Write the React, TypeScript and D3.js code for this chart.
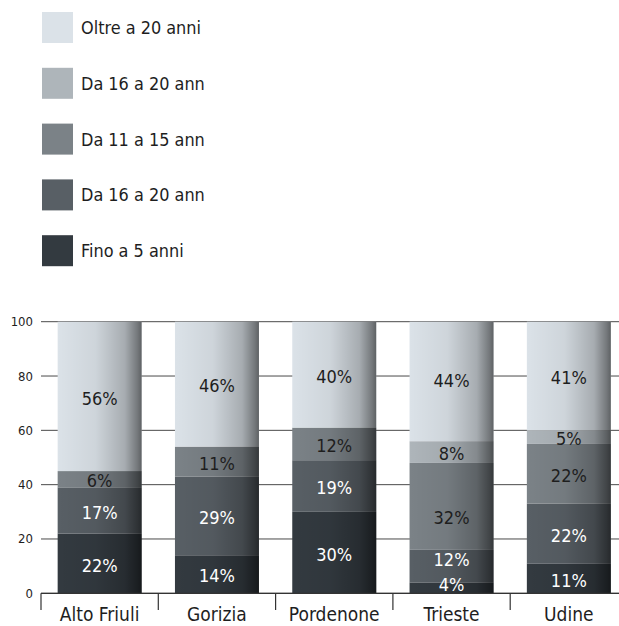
import React from "react";
import * as d3 from "d3";

const categories = ["Alto Friuli", "Gorizia", "Pordenone", "Trieste", "Udine"];
const seriesNames = ["Fino a 5 anni", "Da 16 a 20 ann", "Da 11 a 15 ann", "Da 16 a 20 ann", "Oltre a 20 anni"];
const fino5 = [22, 14, 30, 4, 11];
const da16dark = [17, 29, 19, 12, 22];
const da11 = [6, 11, 12, 32, 22];
const da16light = [0, 0, 0, 8, 5];
const oltre20 = [56, 46, 40, 44, 41];
const yTicks = [0, 20, 40, 60, 80, 100];

const seriesValues = [fino5, da16dark, da11, da16light, oltre20];
const colors = ["#333a40", "#585f65", "#7b8287", "#aeb5ba", "#dbe2e8"];
const labelColors = ["#ffffff", "#ffffff", "#1e1e1e", "#1e1e1e", "#1e1e1e"];
// small label nudges (px) per category/series, for the hand-placed Trieste labels
const labelNudge: Record<string, number[]> = {
  Trieste: [-5, -8, 9, 0, -3],
};

const FONT = "'Liberation Sans Narrow', 'DejaVu Sans Condensed', 'Roboto Condensed', 'Arial Narrow', sans-serif";

export default function App() {
  const W = 619, H = 626;
  const y = d3.scaleLinear().domain([0, 100]).range([593.3, 321.7]);
  const x = d3.scaleBand<string>().domain(categories).range([41, 627.5]).paddingInner(0.284).paddingOuter(0.142);

  const segs: { cat: string; s: number; y0: number; y1: number; v: number }[] = [];
  categories.forEach((cat, i) => {
    let acc = 0;
    seriesValues.forEach((vals, s) => {
      const v = vals[i];
      const y0 = acc;
      acc = Math.min(100, acc + v);
      if (v > 0) segs.push({ cat, s, y0, y1: acc, v });
    });
  });

  const legendOrder = [4, 3, 2, 1, 0];

  return (
    <svg width={W} height={H} style={{ position: "absolute", left: 0, top: 0, background: "#fff" }} fontFamily={FONT}>
      <defs>
        <linearGradient id="shade" x1="0" x2="1" y1="0" y2="0">
          <stop offset="0" stopColor="#000" stopOpacity={0} />
          <stop offset="0.45" stopColor="#000" stopOpacity={0.06} />
          <stop offset="0.8" stopColor="#000" stopOpacity={0.24} />
          <stop offset="0.95" stopColor="#000" stopOpacity={0.47} />
          <stop offset="1" stopColor="#000" stopOpacity={0.57} />
        </linearGradient>
      </defs>

      {/* legend */}
      {legendOrder.map((s, k) => {
        const top = 12 + k * 55.8;
        return (
          <g key={"lg" + k}>
            <rect x={42} y={top} width={31} height={31} fill={colors[s]} />
            <text x={81} y={top + 22} fontSize={17.9} fill="#1e1e1e">{seriesNames[s]}</text>
          </g>
        );
      })}

      {/* gridlines */}
      {yTicks.map((t) => (
        <g key={"t" + t}>
          <line x1={41} x2={619} y1={y(t)} y2={y(t)} stroke="#4a4a4a" strokeWidth={1} />
          <text x={33} y={y(t) + 4.5} fontSize={13} textAnchor="end" fill="#1e1e1e">{t}</text>
        </g>
      ))}

      {/* bars */}
      {categories.map((cat) => {
        const bx = x(cat)!;
        const bw = x.bandwidth();
        const cs = segs.filter((d) => d.cat === cat);
        return (
          <g key={cat}>
            {cs.map((d) => (
              <rect key={d.s} x={bx} y={y(d.y1)} width={bw} height={y(d.y0) - y(d.y1)} fill={colors[d.s]} />
            ))}
            <rect x={bx} y={y(100)} width={bw} height={y(0) - y(100)} fill="url(#shade)" />
            {cs.map((d) => {
              const nudge = labelNudge[cat] ? labelNudge[cat][d.s] : 0;
              const cy = (y(d.y0) + y(d.y1)) / 2 + 2 + nudge;
              return (
                <text key={"l" + d.s} x={bx + bw / 2} y={cy + 6.2} textAnchor="middle" fontSize={18} fill={labelColors[d.s]}>
                  {d.v + "%"}
                </text>
              );
            })}
          </g>
        );
      })}

      {/* baseline & category ticks */}
      <line x1={41} x2={619} y1={y(0)} y2={y(0)} stroke="#333" strokeWidth={1.2} />
      {categories.map((cat) => {
        const left = x(cat)! - x.step() * x.paddingInner() / 2;
        return <line key={"ct" + cat} x1={left} x2={left} y1={y(0)} y2={610} stroke="#333" strokeWidth={1.2} />;
      })}
      {categories.map((cat) => (
        <text key={"cl" + cat} x={x(cat)! + x.bandwidth() / 2} y={620.5} fontSize={19} textAnchor="middle" fill="#1e1e1e">{cat}</text>
      ))}
    </svg>
  );
}
